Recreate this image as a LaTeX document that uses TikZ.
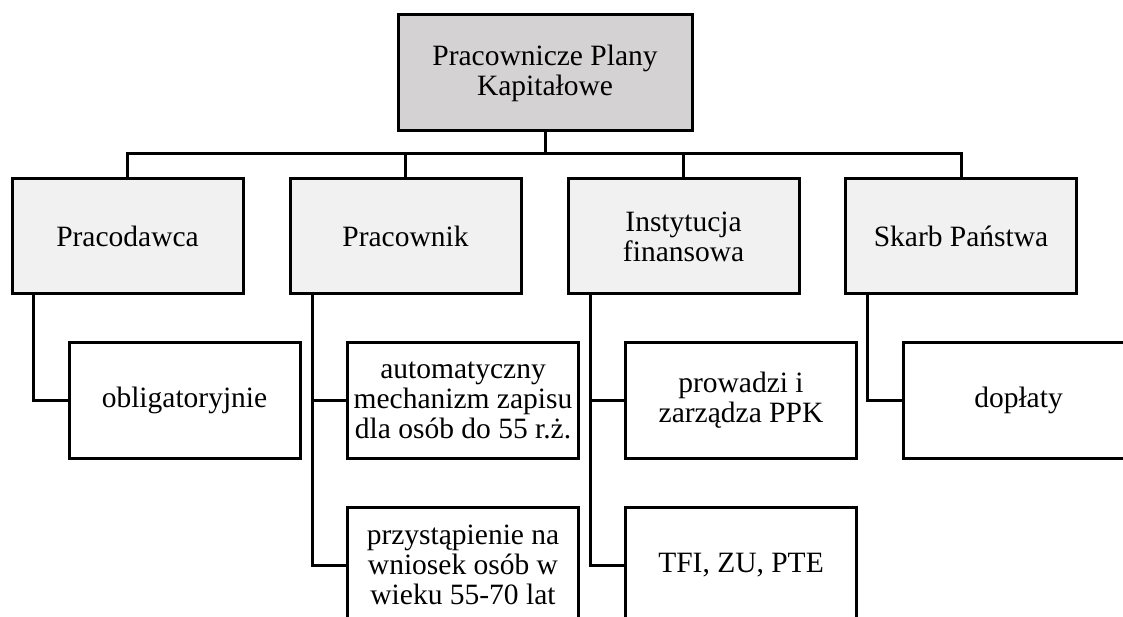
\documentclass[tikz,border=0pt]{standalone}
\usepackage{fontspec}
\setmainfont{Liberation Serif}
\definecolor{topfill}{RGB}{212,210,210}
\definecolor{lvlfill}{RGB}{241,241,241}
\tikzset{
  box/.style={draw=black, line width=3pt, minimum width=231pt, minimum height=116pt,
    align=center, inner sep=0pt, font=\fontsize{29.5}{30}\selectfont},
  topbox/.style={box, fill=topfill, minimum width=294pt},
  lvlbox/.style={box, fill=lvlfill, minimum height=115pt},
  leafbox/.style={box, fill=white},
  conn/.style={line width=3pt}
}
\begin{document}
\begin{tikzpicture}[x=1pt,y=-1pt]
\useasboundingbox (0,0) rectangle (1123,617);
\clip (0,0) rectangle (1123,617);
\node[topbox] (top) at (545,73) {Pracownicze Plany\\Kapitałowe};
\node[lvlbox] (a) at (127.5,236.5) {Pracodawca};
\node[lvlbox] (b) at (405.5,236.5) {Pracownik};
\node[lvlbox] (c) at (683.6,236.5) {Instytucja\\finansowa};
\node[lvlbox] (d) at (961,236.5) {Skarb Państwa};
\node[leafbox] (a1) at (184.5,400) {obligatoryjnie};
\node[leafbox] (b1) at (463,400) {automatyczny\\mechanizm zapisu\\dla osób do 55 r.ż.};
\node[leafbox] (b2) at (463,565) {przystąpienie na\\wniosek osób w\\wieku 55-70 lat};
\node[leafbox] (c1) at (741,400) {prowadzi i\\zarządza PPK};
\node[leafbox] (c2) at (741,565) {TFI, ZU, PTE};
\node[leafbox] (d1) at (1018.5,400) {dopłaty};
\coordinate (bus) at (545,154);
\draw[conn] (top.south) -- (bus);
\draw[conn] (a.north) |- (bus);
\draw[conn] (d.north) |- (bus);
\draw[conn] (b.north) -- (b.north |- bus);
\draw[conn] (c.north) -- (c.north |- bus);
\draw[conn] ([xshift=23pt]a.south west) |- (a1.west);
\draw[conn] ([xshift=24pt]b.south west) |- (b1.west);
\draw[conn] ([xshift=24pt]b.south west) |- (b2.west);
\draw[conn] ([xshift=23.4pt]c.south west) |- (c1.west);
\draw[conn] ([xshift=23.4pt]c.south west) |- (c2.west);
\draw[conn] ([xshift=23pt]d.south west) |- (d1.west);
\end{tikzpicture}
\end{document}
